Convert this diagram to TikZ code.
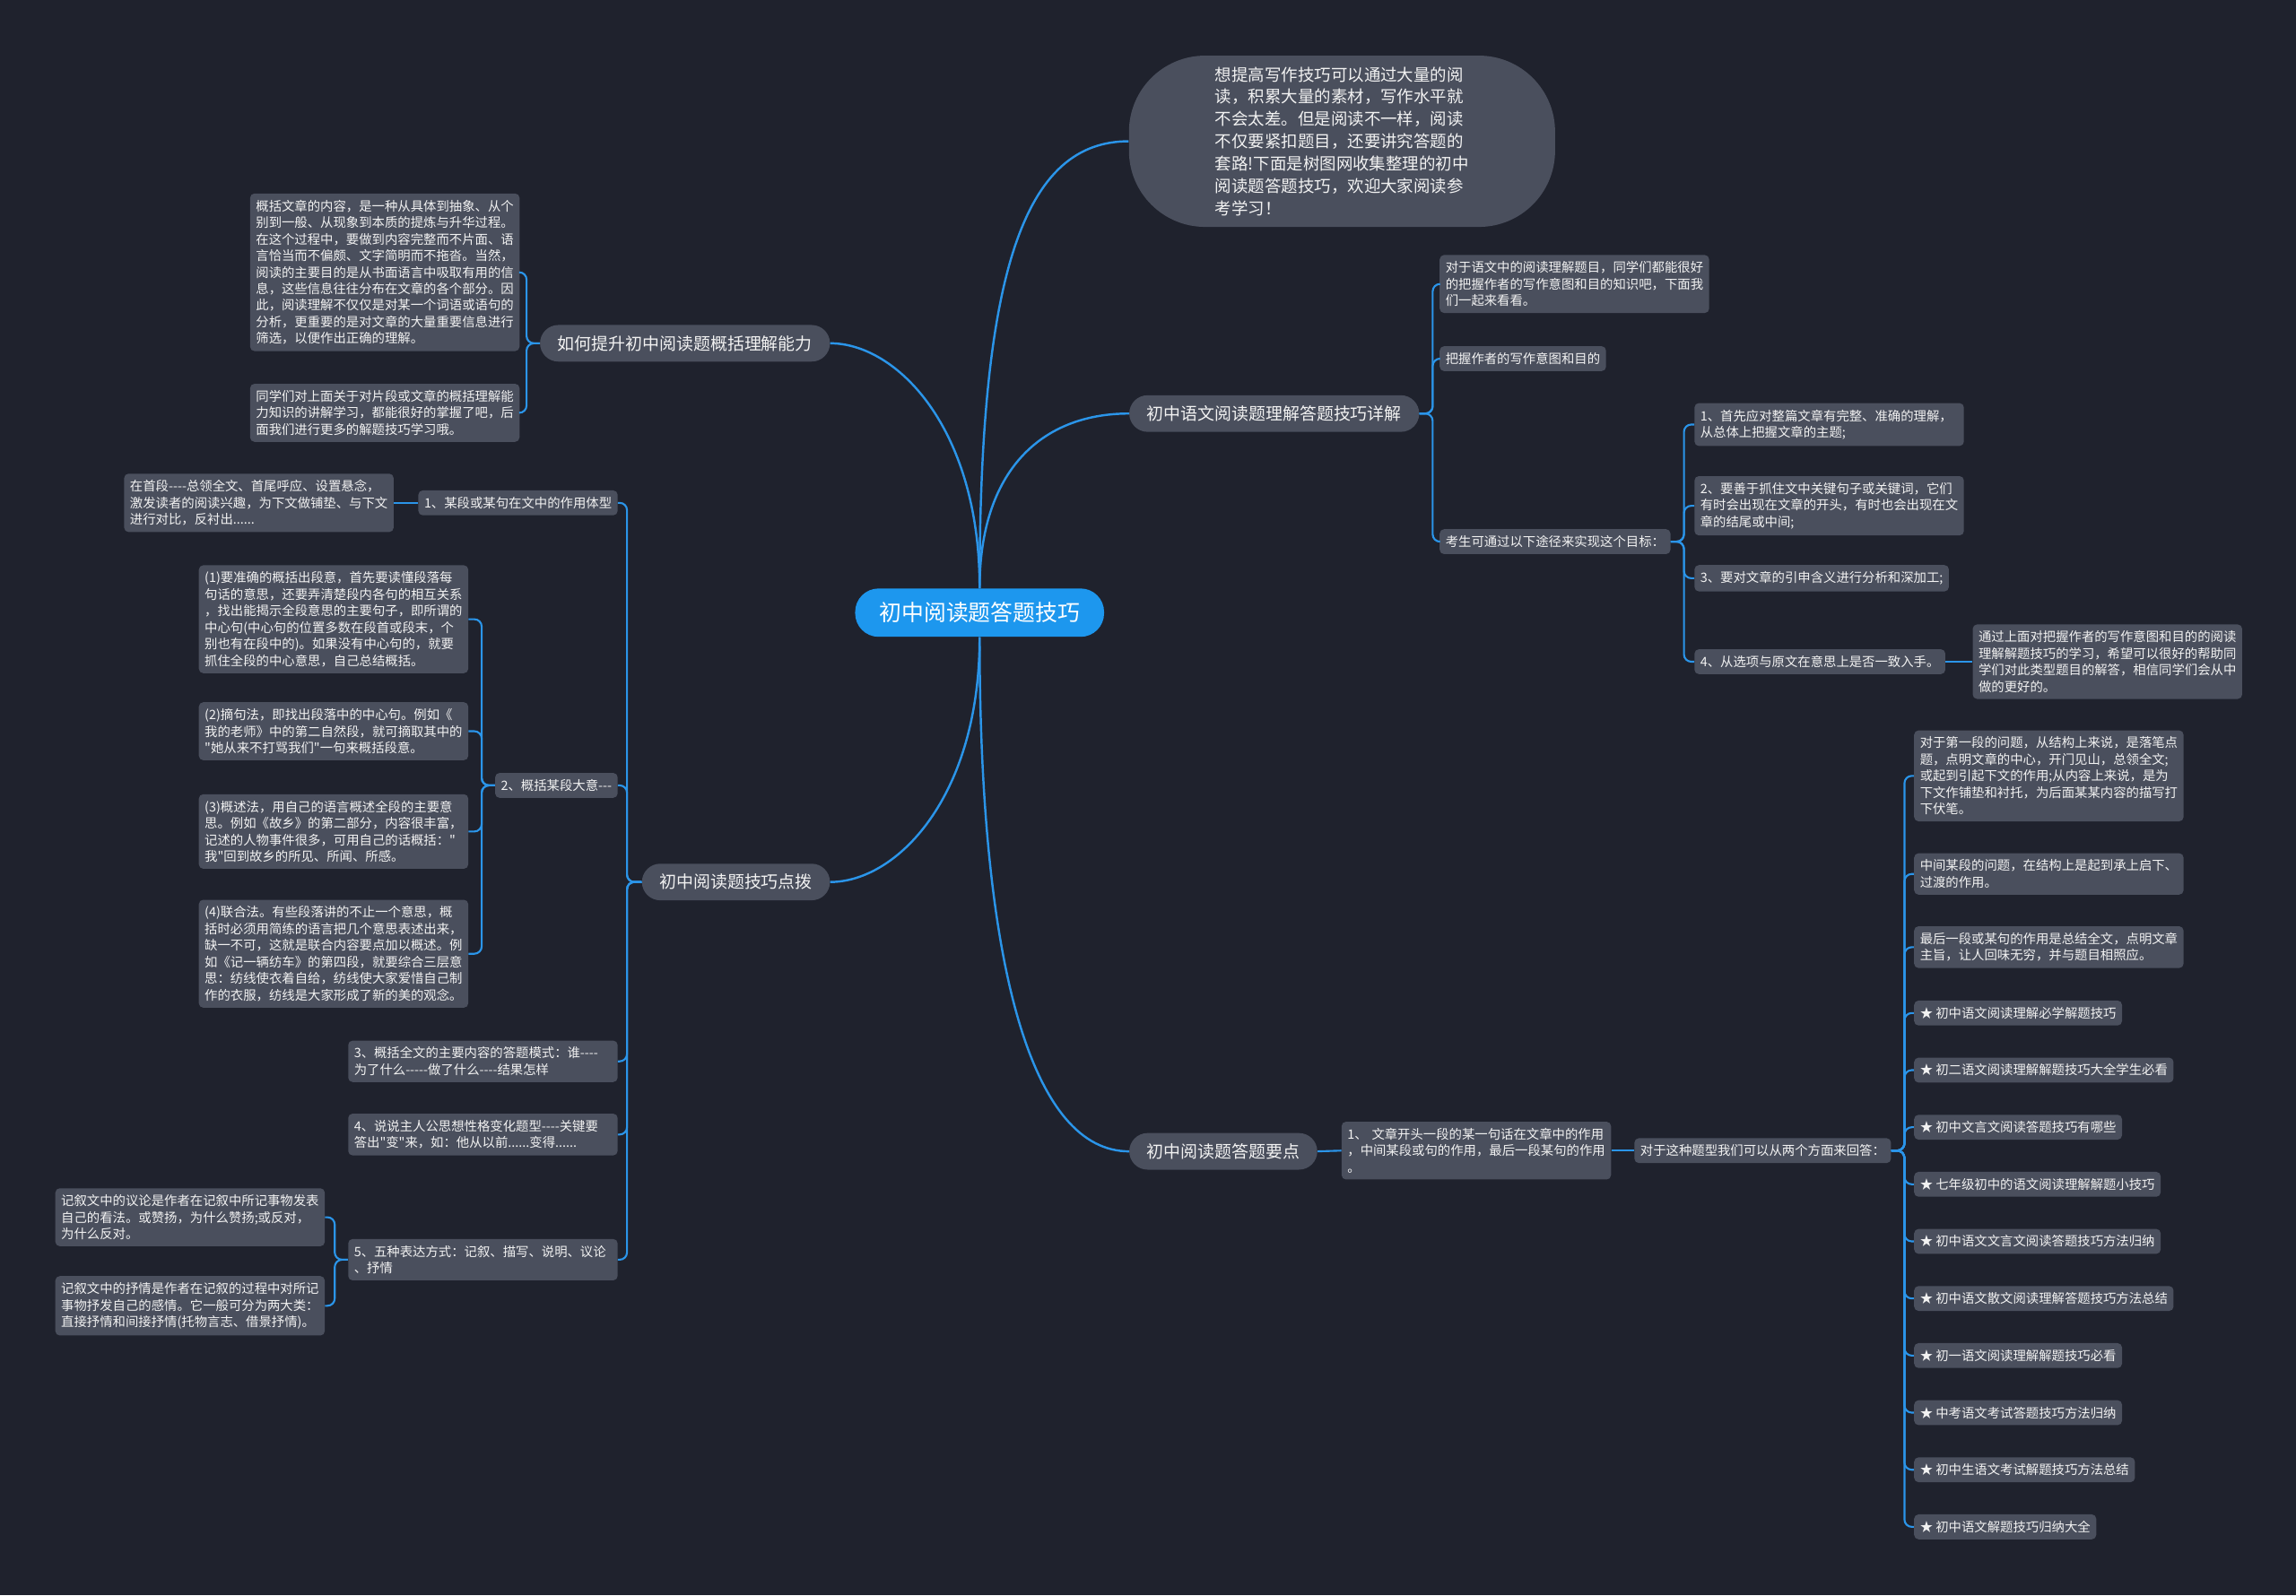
\documentclass[tikz,border=0pt]{standalone}
\usepackage{fontspec}
\newfontfamily\cjk{Noto Sans CJK SC}
\definecolor{bgc}{HTML}{1F222D}
\definecolor{nodebg}{HTML}{4A4F5D}
\definecolor{lineblue}{HTML}{2B95E9}
\definecolor{ctrblue}{HTML}{1D97EE}
\definecolor{txt}{HTML}{F2F2F2}
\newcommand\dd{-\kern0pt}
\tikzset{
  mainconn/.style={draw=lineblue, line width=1.5pt},
  conn/.style={draw=lineblue, line width=1.3pt, rounded corners=5pt},
  leaf/.style={fill=nodebg, rounded corners=3pt, text=txt, font={\cjk\fontsize{8.8}{11.3}\selectfont}, align=left, inner xsep=4pt, inner ysep=4.4pt},
  wleaf/.style={leaf, text width=176pt},
  branch/.style={fill=nodebg, rounded corners=12.5pt, text=txt, font={\cjk\fontsize{11.6}{14}\selectfont}, inner xsep=12pt, inner ysep=0pt, minimum height=25pt},
  bubble/.style={fill=nodebg, rounded corners=52pt, text=txt, font={\cjk\fontsize{11.3}{15.2}\selectfont}, align=left, minimum width=291pt, minimum height=117pt},
  centernode/.style={fill=ctrblue, rounded corners=16pt, text=white, font={\cjk\fontsize{15.2}{18}\selectfont}, minimum width=170pt, minimum height=33pt}
}
\begin{document}
\begin{tikzpicture}[x=1pt,y=-1pt]
\fill[bgc] (0,0) rectangle (1568,1089.7);
\useasboundingbox (0,0) rectangle (1568,1089.7);

% center and main branches
\node[centernode] (c) at (669,418.5) {初中阅读题答题技巧};
\node[bubble] (b1) at (916.5,96.5) {想提高写作技巧可以通过大量的阅\\读，积累大量的素材，写作水平就\\不会太差。但是阅读不一样，阅读\\不仅要紧扣题目，还要讲究答题的\\套路!下面是树图网收集整理的初中\\阅读题答题技巧，欢迎大家阅读参\\考学习！};
\node[branch, anchor=east] (b2) at (567,234.5) {如何提升初中阅读题概括理解能力};
\node[branch, anchor=west] (b3) at (771,282.5) {初中语文阅读题理解答题技巧详解};
\node[branch, anchor=east] (b4) at (567,602.5) {初中阅读题技巧点拨};
\node[branch, anchor=west] (b5) at (771,786.5) {初中阅读题答题要点};

% branch 2 children
\node[wleaf, anchor=east] (l1) at (355,186) {概括文章的内容，是一种从具体到抽象、从个\\别到一般、从现象到本质的提炼与升华过程。\\在这个过程中，要做到内容完整而不片面、语\\言恰当而不偏颇、文字简明而不拖沓。当然，\\阅读的主要目的是从书面语言中吸取有用的信\\息，这些信息往往分布在文章的各个部分。因\\此，阅读理解不仅仅是对某一个词语或语句的\\分析，更重要的是对文章的大量重要信息进行\\筛选，以便作出正确的理解。};
\node[wleaf, anchor=east] (l2) at (355,282) {同学们对上面关于对片段或文章的概括理解能\\力知识的讲解学习，都能很好的掌握了吧，后\\面我们进行更多的解题技巧学习哦。};

% branch 4 children
\node[leaf, anchor=east] (c1) at (422,343.5) {1、某段或某句在文中的作用体型};
\node[wleaf, anchor=east] (c1a) at (269,343.5) {在首段\dd\dd\dd\dd{}总领全文、首尾呼应、设置悬念，\\激发读者的阅读兴趣，为下文做铺垫、与下文\\进行对比，反衬出......};
\node[leaf, anchor=east] (c2) at (422,536.5) {2、概括某段大意\dd\dd\dd};
\node[wleaf, anchor=east] (c2a) at (320,423) {(1)要准确的概括出段意，首先要读懂段落每\\句话的意思，还要弄清楚段内各句的相互关系\\，找出能揭示全段意思的主要句子，即所谓的\\中心句(中心句的位置多数在段首或段末，个\\别也有在段中的)。如果没有中心句的，就要\\抓住全段的中心意思，自己总结概括。};
\node[wleaf, anchor=east] (c2b) at (320,499.5) {(2)摘句法，即找出段落中的中心句。例如《\\我的老师》中的第二自然段，就可摘取其中的\\"她从来不打骂我们"一句来概括段意。};
\node[wleaf, anchor=east] (c2c) at (320,568) {(3)概述法，用自己的语言概述全段的主要意\\思。例如《故乡》的第二部分，内容很丰富，\\记述的人物事件很多，可用自己的话概括："\\我"回到故乡的所见、所闻、所感。};
\node[wleaf, anchor=east] (c2d) at (320,651.5) {(4)联合法。有些段落讲的不止一个意思，概\\括时必须用简练的语言把几个意思表述出来，\\缺一不可，这就是联合内容要点加以概述。例\\如《记一辆纺车》的第四段，就要综合三层意\\思：纺线使衣着自给，纺线使大家爱惜自己制\\作的衣服，纺线是大家形成了新的美的观念。};
\node[wleaf, anchor=east] (c3) at (422,725) {3、概括全文的主要内容的答题模式：谁\dd\dd\dd\dd\\为了什么\dd\dd\dd\dd\dd{}做了什么\dd\dd\dd\dd{}结果怎样};
\node[wleaf, anchor=east] (c4) at (422,775) {4、说说主人公思想性格变化题型\dd\dd\dd\dd{}关键要\\答出"变"来，如：他从以前......变得......};
\node[wleaf, anchor=east] (c5) at (422,860.5) {5、五种表达方式：记叙、描写、说明、议论\\、抒情};
\node[wleaf, anchor=east] (c5a) at (222,831.5) {记叙文中的议论是作者在记叙中所记事物发表\\自己的看法。或赞扬，为什么赞扬;或反对，\\为什么反对。};
\node[wleaf, anchor=east] (c5b) at (222,892) {记叙文中的抒情是作者在记叙的过程中对所记\\事物抒发自己的感情。它一般可分为两大类：\\直接抒情和间接抒情(托物言志、借景抒情)。};

% branch 3 children
\node[wleaf, anchor=west] (r1) at (983,194) {对于语文中的阅读理解题目，同学们都能很好\\的把握作者的写作意图和目的知识吧，下面我\\们一起来看看。};
\node[leaf, anchor=west] (r2) at (983,245) {把握作者的写作意图和目的};
\node[leaf, anchor=west] (r3) at (983,370) {考生可通过以下途径来实现这个目标：};
\node[wleaf, anchor=west] (r3a) at (1157,290) {1、首先应对整篇文章有完整、准确的理解，\\从总体上把握文章的主题;};
\node[wleaf, anchor=west] (r3b) at (1157,345.5) {2、要善于抓住文中关键句子或关键词，它们\\有时会出现在文章的开头，有时也会出现在文\\章的结尾或中间;};
\node[leaf, anchor=west] (r3c) at (1157,395) {3、要对文章的引申含义进行分析和深加工;};
\node[leaf, anchor=west] (r3d) at (1157,452) {4、从选项与原文在意思上是否一致入手。};
\node[wleaf, anchor=west] (r3e) at (1347,452) {通过上面对把握作者的写作意图和目的的阅读\\理解解题技巧的学习，希望可以很好的帮助同\\学们对此类型题目的解答，相信同学们会从中\\做的更好的。};

% branch 5 children
\node[wleaf, anchor=west] (d1) at (916,786) {1、 文章开头一段的某一句话在文章中的作用\\，中间某段或句的作用，最后一段某句的作用\\。};
\node[leaf, anchor=west] (d2) at (1116,786) {对于这种题型我们可以从两个方面来回答：};
\node[wleaf, anchor=west] (e1) at (1307,530) {对于第一段的问题，从结构上来说，是落笔点\\题，点明文章的中心，开门见山，总领全文;\\或起到引起下文的作用;从内容上来说，是为\\下文作铺垫和衬托，为后面某某内容的描写打\\下伏笔。};
\node[wleaf, anchor=west] (e2) at (1307,597) {中间某段的问题，在结构上是起到承上启下、\\过渡的作用。};
\node[wleaf, anchor=west] (e3) at (1307,647) {最后一段或某句的作用是总结全文，点明文章\\主旨，让人回味无穷，并与题目相照应。};
\node[leaf, anchor=west] (e4) at (1307,692) {★ 初中语文阅读理解必学解题技巧};
\node[leaf, anchor=west] (e5) at (1307,731) {★ 初二语文阅读理解解题技巧大全学生必看};
\node[leaf, anchor=west] (e6) at (1307,770) {★ 初中文言文阅读答题技巧有哪些};
\node[leaf, anchor=west] (e7) at (1307,809) {★ 七年级初中的语文阅读理解解题小技巧};
\node[leaf, anchor=west] (e8) at (1307,848) {★ 初中语文文言文阅读答题技巧方法归纳};
\node[leaf, anchor=west] (e9) at (1307,887) {★ 初中语文散文阅读理解答题技巧方法总结};
\node[leaf, anchor=west] (e10) at (1307,926) {★ 初一语文阅读理解解题技巧必看};
\node[leaf, anchor=west] (e11) at (1307,965) {★ 中考语文考试答题技巧方法归纳};
\node[leaf, anchor=west] (e12) at (1307,1004) {★ 初中生语文考试解题技巧方法总结};
\node[leaf, anchor=west] (e13) at (1307,1043) {★ 初中语文解题技巧归纳大全};

% main connectors
\draw[mainconn] (c.north) .. controls +(0,-220) and +(-70,0) .. (b1.west);
\draw[mainconn] (c.north) .. controls +(0,-110) and +(45,0) .. (b2.east);
\draw[mainconn] (c.north) .. controls +(0,-80) and +(-60,0) .. (b3.west);
\draw[mainconn] (c.south) .. controls +(0,110) and +(45,0) .. (b4.east);
\draw[mainconn] (c.south) .. controls +(0,230) and +(-65,0) .. (b5.west);

% branch 2
\foreach \n in {l1,l2} \draw[conn] (b2.west) -- ++(-9,0) |- (\n.east);
% branch 4
\foreach \n in {c1,c2,c3,c4,c5} \draw[conn] (b4.west) -- ++(-10,0) |- (\n.east);
\draw[conn] (c1.west) -- (c1a.east);
\foreach \n in {c2a,c2b,c2c,c2d} \draw[conn] (c2.west) -- ++(-9,0) |- (\n.east);
\foreach \n in {c5a,c5b} \draw[conn] (c5.west) -- ++(-9,0) |- (\n.east);
% branch 3
\foreach \n in {r1,r2,r3} \draw[conn] (b3.east) -- ++(9,0) |- (\n.west);
\foreach \n in {r3a,r3b,r3c,r3d} \draw[conn] (r3.east) -- ++(9,0) |- (\n.west);
\draw[conn] (r3d.east) -- (r3e.west);
% branch 5
\draw[conn] (b5.east) -- (d1.west);
\draw[conn] (d1.east) -- (d2.west);
\foreach \n in {e1,e2,e3,e4,e5,e6,e7,e8,e9,e10,e11,e12,e13} \draw[conn] (d2.east) -- ++(9,0) |- (\n.west);
\end{tikzpicture}
\end{document}
